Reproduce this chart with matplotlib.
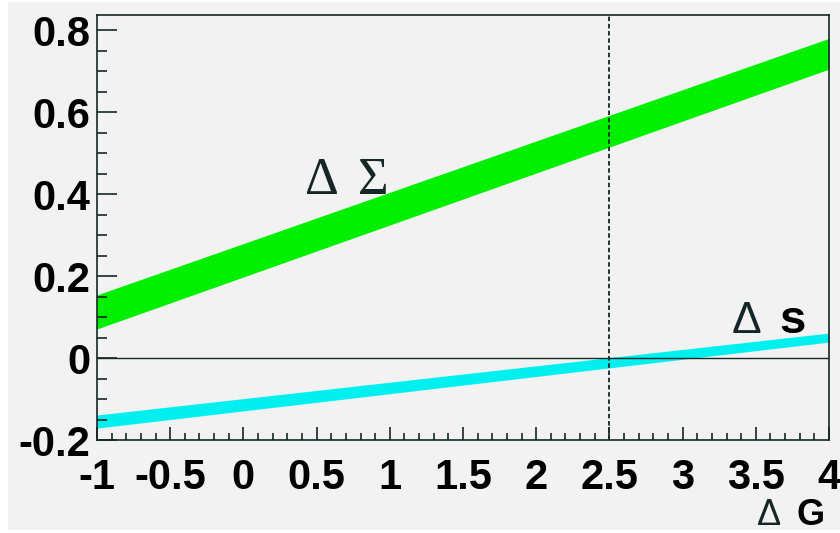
import matplotlib
matplotlib.use('Agg')
import matplotlib.pyplot as plt
from matplotlib.patches import Rectangle
from matplotlib.ticker import MultipleLocator
from matplotlib.transforms import ScaledTranslation
import numpy as np

# Delta G range and the two uncertainty bands
delta_g = np.array([-1.0, 4.0])
sigma_low = np.array([0.071, 0.705])
sigma_high = np.array([0.154, 0.780])
ds_low = np.array([-0.171, 0.039])
ds_high = np.array([-0.139, 0.061])

x_ticks = [-1, -0.5, 0, 0.5, 1, 1.5, 2, 2.5, 3, 3.5, 4]
x_tick_labels = ["-1", "-0.5", "0", "0.5", "1", "1.5", "2", "2.5", "3", "3.5", "4"]
y_ticks = [-0.2, 0, 0.2, 0.4, 0.6, 0.8]
y_tick_labels = ["-0.2", "0", "0.2", "0.4", "0.6", "0.8"]
marker_x = 2.5

BG = "#f2f2f2"
INK = "#142626"

fig = plt.figure(figsize=(8.4, 5.33), dpi=100, facecolor="white")
fig.patches.append(Rectangle((8 / 840, 3 / 533), 1 - 8 / 840, 1 - 5 / 533,
                             transform=fig.transFigure, facecolor=BG,
                             edgecolor="none", zorder=-10))

ax = fig.add_axes([97 / 840, 93 / 533, 732 / 840, 425 / 533])
ax.set_facecolor(BG)

ax.fill_between(delta_g, sigma_low, sigma_high, color="#00f000", linewidth=0)
ax.fill_between(delta_g, ds_low, ds_high, color="#00f0f0", linewidth=0)

ax.axhline(0, color=INK, linewidth=1.0)
ax.axvline(marker_x, color=INK, linewidth=1.3, linestyle=(0, (2.5, 1.5)))

ax.set_xlim(-1, 4)
ax.set_ylim(-0.2, 0.837)

ax.set_xticks(x_ticks)
ax.set_xticklabels(x_tick_labels)
ax.set_yticks(y_ticks)
ax.set_yticklabels(y_tick_labels)
ax.xaxis.set_minor_locator(MultipleLocator(0.1))
ax.yaxis.set_minor_locator(MultipleLocator(0.05))

lab_font = dict(family="Liberation Sans", weight="bold", size=30)
for lab in ax.get_xticklabels() + ax.get_yticklabels():
    lab.set(**lab_font)

# ROOT puts the y labels a touch below the tick
shift = ScaledTranslation(0, -4 / 100, fig.dpi_scale_trans)
for lab in ax.get_yticklabels():
    lab.set_transform(lab.get_transform() + shift)

ax.tick_params(axis="x", which="major", direction="in", length=9.4, width=1.2,
               color=INK, pad=13, top=False)
ax.tick_params(axis="x", which="minor", direction="in", length=5, width=1.2,
               color=INK, top=False)
ax.tick_params(axis="y", which="major", direction="in", length=14.4, width=1.2,
               color=INK, pad=5, right=False)
ax.tick_params(axis="y", which="minor", direction="in", length=7.2, width=1.2,
               color=INK, right=False)

for sp in ax.spines.values():
    sp.set_color(INK)
    sp.set_linewidth(1.2)

# labels
ax.text(0.42, 0.40, "Δ", family="Liberation Serif", size=38, color=INK)
ax.text(0.783, 0.40, "Σ", family="Liberation Serif", size=38, color=INK)
ax.text(3.337, 0.061, "Δ", family="Liberation Sans", size=32, color=INK)
ax.text(3.66, 0.061, "s", family="Liberation Sans", weight="bold", size=34, color="black")
ax.text(3.508, -0.407, "Δ", family="Liberation Sans", size=26, color=INK, clip_on=False)
ax.text(3.775, -0.407, "G", family="Liberation Sans", weight="bold", size=26,
        color="black", clip_on=False)

fig.savefig("out.png", dpi=100, facecolor=fig.get_facecolor())
